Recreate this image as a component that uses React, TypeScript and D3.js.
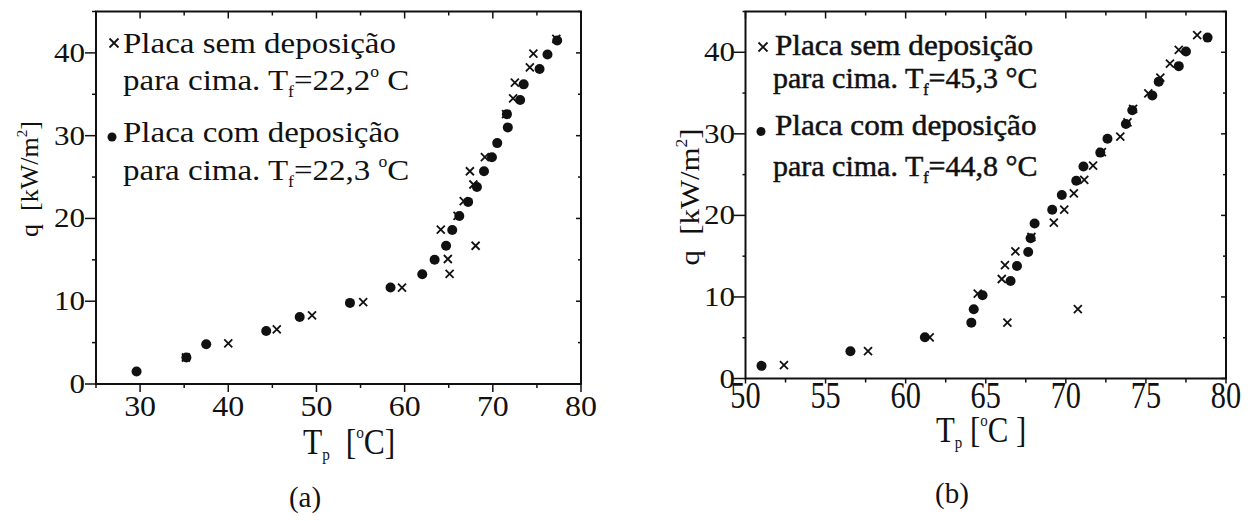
import React from "react";
import { scaleLinear, range } from "d3";

// painel (a): placa horizontal para cima, Tf ~ 22 °C
const aSemT = [35.2, 40.0, 45.5, 49.5, 55.3, 59.7, 65.1, 64.9, 68.05, 64.1, 66.0, 66.7, 67.8, 67.4, 69.1, 71.5, 72.3, 72.5, 74.2, 74.6, 77.2];
const aSemQ = [3.2, 4.9, 6.6, 8.3, 9.9, 11.65, 13.3, 15.1, 16.7, 18.65, 20.3, 22.1, 24.1, 25.7, 27.4, 32.6, 34.5, 36.4, 38.25, 39.9, 41.7];
const aComT = [29.6, 35.25, 37.5, 44.3, 48.1, 53.8, 58.4, 62.0, 63.4, 64.7, 65.4, 66.2, 67.2, 68.2, 69.0, 69.9, 70.5, 71.7, 71.6, 73.1, 73.5, 75.3, 76.2, 77.3];
const aComQ = [1.5, 3.2, 4.8, 6.4, 8.1, 9.8, 11.65, 13.25, 15.0, 16.7, 18.6, 20.3, 22.0, 23.8, 25.7, 27.4, 29.1, 31.0, 32.6, 34.3, 36.2, 38.05, 39.8, 41.5];

// painel (b): Tf ~ 45 °C
const bSemT = [52.4, 57.65, 61.5, 66.35, 70.75, 64.5, 66.0, 66.2, 66.85, 67.85, 69.25, 69.9, 70.5, 71.15, 71.7, 72.25, 73.4, 73.85, 74.2, 75.15, 75.9, 76.5, 77.05, 78.2];
const bSemQ = [1.65, 3.35, 5.05, 6.85, 8.5, 10.4, 12.2, 13.9, 15.6, 17.35, 19.1, 20.7, 22.7, 24.35, 26.1, 27.75, 29.65, 31.4, 33.05, 34.95, 36.9, 38.6, 40.3, 42.1];
const bComT = [51.0, 56.55, 61.2, 64.1, 64.25, 64.8, 66.55, 66.95, 67.65, 67.8, 68.05, 69.15, 69.75, 70.65, 71.1, 72.15, 72.6, 73.75, 74.15, 75.4, 75.8, 77.05, 77.5, 78.85];
const bComQ = [1.55, 3.35, 5.05, 6.85, 8.5, 10.2, 11.95, 13.8, 15.5, 17.2, 19.0, 20.7, 22.5, 24.25, 26.0, 27.7, 29.4, 31.2, 32.9, 34.7, 36.4, 38.3, 40.1, 41.8];

const xTicksA = [30, 40, 50, 60, 70, 80];
const xTicksB = [50, 55, 60, 65, 70, 75, 80];
const yTicks = [0, 10, 20, 30, 40];

const FONT = "'Liberation Serif', 'Times New Roman', serif";
const INK = "#111";

const xA = scaleLinear().domain([25, 80]).range([96, 581]);
const yA = scaleLinear().domain([0, 45]).range([384, 11.5]);
const xB = scaleLinear().domain([50, 80]).range([745.5, 1226]);
const yB = scaleLinear().domain([0, 45]).range([378.5, 11.5]);

function T({ x, y, size, sx = 1, sy = 1, rot = 0, anchor = "start", children, bold = false }: any) {
  return (
    <text
      transform={`translate(${x},${y}) rotate(${rot}) scale(${sx},${sy})`}
      fontFamily={FONT}
      fontSize={size}
      textAnchor={anchor}
      fill={INK}
      stroke={bold ? INK : "none"}
      strokeWidth={bold ? 0.5 : 0}
    >
      {children}
    </text>
  );
}

function Cross({ cx, cy, h = 4 }: any) {
  return (
    <path
      d={`M${cx - h},${cy - h}L${cx + h},${cy + h}M${cx - h},${cy + h}L${cx + h},${cy - h}`}
      stroke={INK}
      strokeWidth={1.8}
    />
  );
}

function Frame({ x, y, xMinor, xMajor, yMinor, len }: any) {
  const [x0, x1] = x.range();
  const [y0, y1] = y.range();
  return (
    <g stroke={INK}>
      <rect x={x0} y={y1} width={x1 - x0} height={y0 - y1} fill="none" strokeWidth={2} />
      {xMinor.map((v: number) => {
        const px = x(v);
        const m = xMajor.includes(v);
        return (
          <g key={"x" + v} strokeWidth={1.5}>
            <line x1={px} x2={px} y1={y0} y2={y0 + (m ? len.bMaj : len.bMin)} />
            <line x1={px} x2={px} y1={y1} y2={y1 + (m ? len.tMaj : len.tMin)} />
          </g>
        );
      })}
      {yMinor.map((v: number) => {
        const py = y(v);
        const m = v % 10 === 0;
        return (
          <g key={"y" + v} strokeWidth={1.5}>
            <line x1={x0} x2={x0 - (m ? len.lMaj : len.lMin)} y1={py} y2={py} />
            <line x1={x1} x2={x1 - (m ? 5 : 3)} y1={py} y2={py} />
          </g>
        );
      })}
    </g>
  );
}

function Points({ x, y, semT, semQ, comT, comQ }: any) {
  return (
    <g>
      {comT.map((t: number, i: number) => (
        <circle key={"c" + i} cx={x(t)} cy={y(comQ[i])} r={5} fill={INK} />
      ))}
      {semT.map((t: number, i: number) => (
        <Cross key={"s" + i} cx={x(t)} cy={y(semQ[i])} />
      ))}
    </g>
  );
}

export default function App() {
  const yMinor = range(0, 46, 5);
  return (
    <svg
      width={1252}
      height={521}
      style={{ position: "absolute", left: 0, top: 0, background: "#fff" }}
    >
      {/* ---------- (a) ---------- */}
      <Frame
        x={xA}
        y={yA}
        xMinor={range(25, 81, 5)}
        xMajor={xTicksA}
        yMinor={yMinor}
        len={{ bMaj: 8, bMin: 4, tMaj: 7, tMin: 4, lMaj: 11, lMin: 4 }}
      />
      <Points x={xA} y={yA} semT={aSemT} semQ={aSemQ} comT={aComT} comQ={aComQ} />
      {xTicksA.map((v) => (
        <T key={v} x={xA(v)} y={416} size={29} sx={1.1} anchor="middle">{v}</T>
      ))}
      {yTicks.map((v) => (
        <T key={v} x={85} y={yA(v) + 9} size={27} sx={1.15} anchor="end">{v}</T>
      ))}
      <T x={303} y={454} size={35} sx={0.9}>
        T<tspan fontSize={17} dy={6}>p</tspan>
        <tspan dy={-6}>{"\u00a0\u00a0["}</tspan>
        <tspan fontSize={17} dy={-16}>o</tspan>
        <tspan dy={16}>C]</tspan>
      </T>
      <T x={38} y={179} size={26} rot={-90} anchor="middle">
        {"q\u00a0\u00a0[kW/m"}
        <tspan fontSize={15} dy={-11}>2</tspan>
        <tspan dy={11}>]</tspan>
      </T>
      <Cross cx={114} cy={43} h={4.5} />
      <T x={123} y={53} size={30} sx={1.1}>Placa sem deposição</T>
      <T x={123} y={90} size={30} sx={1.1}>
        {"para cima. T"}
        <tspan fontSize={16} dy={7}>f</tspan>
        <tspan dy={-7}>=22,2</tspan>
        <tspan fontSize={16} dy={-13}>o</tspan>
        <tspan dy={13}>{" C"}</tspan>
      </T>
      <circle cx={112} cy={137} r={4.5} fill={INK} />
      <T x={123} y={142} size={30} sx={1.1}>Placa com deposição</T>
      <T x={123} y={180} size={30} sx={1.1}>
        {"para cima. T"}
        <tspan fontSize={16} dy={7}>f</tspan>
        <tspan dy={-7}>=22,3 </tspan>
        <tspan fontSize={16} dy={-13}>o</tspan>
        <tspan dy={13}>C</tspan>
      </T>
      <T x={305} y={507} size={29} anchor="middle">(a)</T>

      {/* ---------- (b) ---------- */}
      <Frame
        x={xB}
        y={yB}
        xMinor={range(50, 80.1, 2.5)}
        xMajor={xTicksB}
        yMinor={yMinor}
        len={{ bMaj: 5, bMin: 4, tMaj: 7, tMin: 4, lMaj: 12, lMin: 3 }}
      />
      <Points x={xB} y={yB} semT={bSemT} semQ={bSemQ} comT={bComT} comQ={bComQ} />
      {xTicksB.map((v) => (
        <T key={v} x={xB(v)} y={408} size={37} sx={0.82} anchor="middle">{v}</T>
      ))}
      {yTicks.map((v) => (
        <T key={v} x={735} y={yB(v) + 9} size={27} sx={1.15} anchor="end">{v}</T>
      ))}
      <T x={936} y={442} size={35} sx={0.88}>
        T<tspan fontSize={17} dy={6}>p</tspan>
        <tspan dy={-6}>{"\u00a0["}</tspan>
        <tspan fontSize={17} dy={-16}>o</tspan>
        <tspan dy={16}>{"C\u00a0]"}</tspan>
      </T>
      <T x={699} y={197} size={28} sx={1.1} rot={-90} anchor="middle">
        {"q\u00a0\u00a0[kW/m"}
        <tspan fontSize={16} dy={-12}>2</tspan>
        <tspan dy={12}>]</tspan>
      </T>
      <Cross cx={763} cy={47} h={4.5} />
      <T x={775} y={55} size={30} sx={1.04} bold>Placa sem deposição</T>
      <T x={773} y={88} size={30} sx={1.0} bold>
        {"para cima. T"}
        <tspan fontSize={16} dy={7}>f</tspan>
        <tspan dy={-7}>=45,3 °C</tspan>
      </T>
      <circle cx={761} cy={131.5} r={4.5} fill={INK} />
      <T x={775} y={135} size={30} sx={1.04} bold>Placa com deposição</T>
      <T x={773} y={176} size={30} sx={1.0} bold>
        {"para cima. T"}
        <tspan fontSize={16} dy={7}>f</tspan>
        <tspan dy={-7}>=44,8 °C</tspan>
      </T>
      <T x={952} y={503} size={29} anchor="middle">(b)</T>
    </svg>
  );
}
